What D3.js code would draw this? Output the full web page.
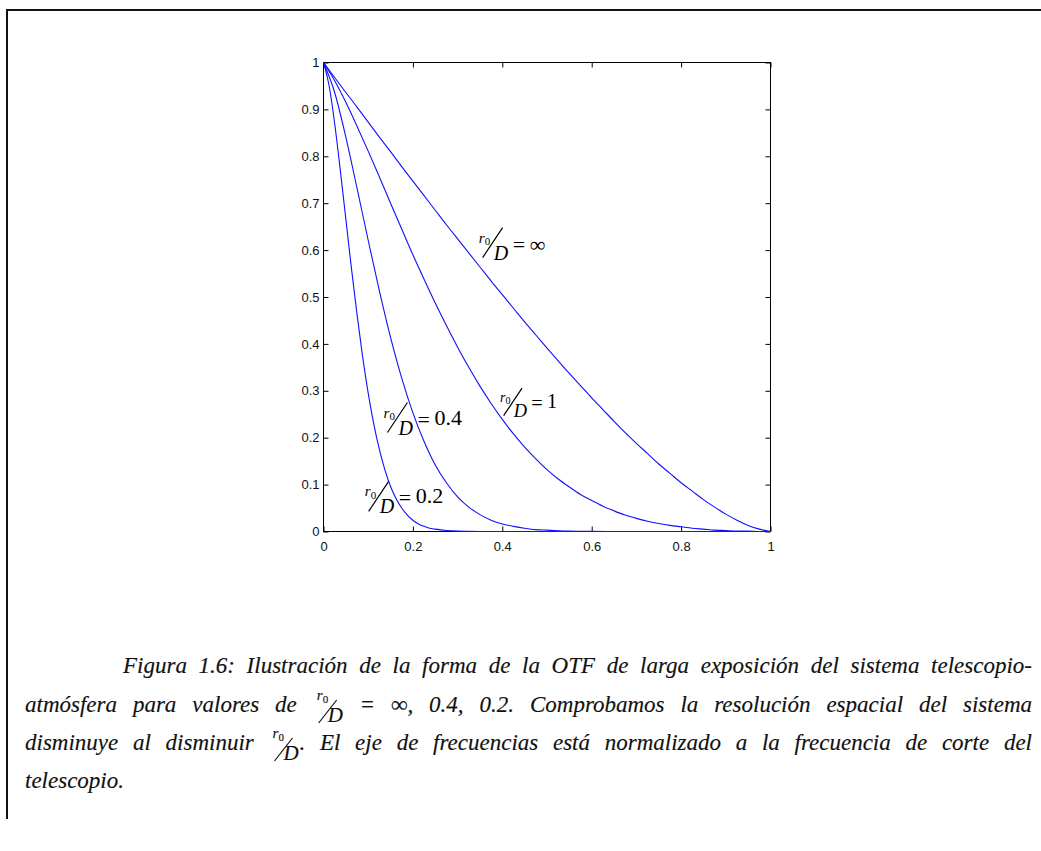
<!DOCTYPE html>
<html>
<head>
<meta charset="utf-8">
<script src="https://cdn.jsdelivr.net/npm/d3@7"></script>
<style>
  body { margin: 0; background: #fff; }
  svg { display: block; }
</style>
</head>
<body>
<svg id="fig" width="1041" height="851"></svg>
<script>
// Normalized spatial frequency samples (fraction of the telescope cut-off)
const freqCoarse = [0, 0.025, 0.05, 0.075, 0.1, 0.125, 0.15, 0.175, 0.2, 0.225, 0.25, 0.275, 0.3, 0.325, 0.35,
  0.375, 0.4, 0.425, 0.45, 0.475, 0.5, 0.525, 0.55, 0.575, 0.6, 0.625, 0.65, 0.675, 0.7, 0.725, 0.75, 0.775,
  0.8, 0.825, 0.85, 0.875, 0.9, 0.925, 0.95, 0.975, 1];
const freqMid = [0, 0.025, 0.05, 0.075, 0.1, 0.125, 0.15, 0.175, 0.2, 0.225, 0.25, 0.275, 0.3, 0.325, 0.35,
  0.375, 0.4, 0.425, 0.45, 0.475, 0.5, 0.55, 0.6, 0.65, 0.7, 1];
const freqFine = [0, 0.0125, 0.025, 0.0375, 0.05, 0.0625, 0.075, 0.0875, 0.1, 0.1125, 0.125, 0.1375, 0.15,
  0.1625, 0.175, 0.1875, 0.2, 0.2125, 0.225, 0.2375, 0.25, 0.275, 0.3, 0.325, 0.35, 1];

// Long-exposure OTF of the telescope + atmosphere system
const otfInf = [1, 0.968, 0.936, 0.905, 0.873, 0.841, 0.810, 0.778, 0.747, 0.716, 0.685, 0.654, 0.624, 0.594,
  0.564, 0.534, 0.505, 0.476, 0.447, 0.419, 0.391, 0.364, 0.337, 0.311, 0.285, 0.260, 0.235, 0.211, 0.188,
  0.166, 0.144, 0.124, 0.104, 0.086, 0.068, 0.052, 0.037, 0.024, 0.013, 0.005, 0];
const otfR1 = [1, 0.961, 0.915, 0.864, 0.811, 0.756, 0.700, 0.645, 0.590, 0.538, 0.487, 0.439, 0.393, 0.350,
  0.310, 0.273, 0.239, 0.208, 0.180, 0.155, 0.132, 0.112, 0.095, 0.079, 0.066, 0.054, 0.044, 0.035, 0.028,
  0.022, 0.017, 0.013, 0.010, 0.007, 0.005, 0.003, 0.002, 0.001, 0.001, 0, 0];
const otfR04 = [1, 0.936, 0.841, 0.732, 0.621, 0.513, 0.414, 0.327, 0.253, 0.192, 0.142, 0.104, 0.074, 0.052,
  0.036, 0.024, 0.016, 0.011, 0.007, 0.004, 0.003, 0.001, 0.0003, 0.0001, 0, 0];
const otfR02 = [1, 0.951, 0.870, 0.771, 0.666, 0.561, 0.463, 0.373, 0.295, 0.229, 0.175, 0.131, 0.096, 0.070,
  0.050, 0.035, 0.024, 0.016, 0.011, 0.007, 0.005, 0.002, 0.0007, 0.0003, 0.0001, 0];

// Axis ticks
const xTickValues = [0, 0.2, 0.4, 0.6, 0.8, 1];
const xTickLabels = ["0", "0.2", "0.4", "0.6", "0.8", "1"];
const yTickValues = [0, 0.1, 0.2, 0.3, 0.4, 0.5, 0.6, 0.7, 0.8, 0.9, 1];
const yTickLabels = ["0", "0.1", "0.2", "0.3", "0.4", "0.5", "0.6", "0.7", "0.8", "0.9", "1"];

// r0/D annotations: value text and where the fraction bar starts (data units)
const ratioText = ["∞", "1", "0.4", "0.2"];
const ratioAtFreq = [0.356, 0.403, 0.143, 0.101];
const ratioAtOtf = [0.584, 0.247, 0.211, 0.043];

const series = [
  { f: freqCoarse, v: otfInf },
  { f: freqCoarse, v: otfR1 },
  { f: freqMid, v: otfR04 },
  { f: freqFine, v: otfR02 }
];

const svg = d3.select("#fig");
svg.append("rect").attr("width", 1041).attr("height", 851).attr("fill", "#fff");

// page frame (top and left rules)
svg.append("path")
  .attr("d", "M7,819V10H1041")
  .attr("fill", "none").attr("stroke", "#111").attr("stroke-width", 2);

const x = d3.scaleLinear().domain([0, 1]).range([323.5, 770.5]);
const y = d3.scaleLinear().domain([0, 1]).range([531.5, 62.5]);

const plot = svg.append("g");
const tickFont = "'Liberation Sans', Arial, sans-serif";

function styleAxis(g) {
  g.select(".domain").remove();
  g.selectAll(".tick line").attr("stroke", "#000");
  g.selectAll(".tick text").attr("fill", "#111").style("font-family", tickFont).style("font-size", "13px");
}

plot.append("g").attr("transform", `translate(0,${y(0)})`)
  .call(d3.axisBottom(x).tickValues(xTickValues).tickSizeInner(-5).tickSizeOuter(0).tickPadding(10)
    .tickFormat((d, i) => xTickLabels[i]))
  .call(styleAxis);
plot.append("g").attr("transform", `translate(0,${y(1)})`)
  .call(d3.axisTop(x).tickValues(xTickValues).tickSizeInner(-5).tickSizeOuter(0).tickFormat(""))
  .call(styleAxis);
plot.append("g").attr("transform", `translate(${x(0)},0)`)
  .call(d3.axisLeft(y).tickValues(yTickValues).tickSizeInner(-5).tickSizeOuter(0).tickPadding(4)
    .tickFormat((d, i) => yTickLabels[i]))
  .call(styleAxis);
plot.append("g").attr("transform", `translate(${x(1)},0)`)
  .call(d3.axisRight(y).tickValues(yTickValues).tickSizeInner(-5).tickSizeOuter(0).tickFormat(""))
  .call(styleAxis);

plot.append("rect")
  .attr("x", x(0)).attr("y", y(1))
  .attr("width", x(1) - x(0)).attr("height", y(0) - y(1))
  .attr("fill", "none").attr("stroke", "#000").attr("stroke-width", 1);

const line = d3.line()
  .x(d => x(d[0]))
  .y(d => y(d[1]))
  .curve(d3.curveMonotoneX);

plot.selectAll("path.otf")
  .data(series)
  .join("path")
  .attr("class", "otf")
  .attr("d", s => line(d3.zip(s.f, s.v)))
  .attr("fill", "none")
  .attr("stroke", "#1010ff")
  .attr("stroke-width", 1.1);

const serif = "'Liberation Serif', 'Times New Roman', serif";

// "r0 / D = value" built from pieces, anchored at the lower end of the bar
function drawRatio(g, sx, sy, value, k) {
  const isInf = value === "∞";
  g.append("text").attr("x", sx - 4 * k).attr("y", sy - 15 * k)
    .style("font-family", serif).style("font-style", "italic").style("font-size", (15 * k) + "px").text("r");
  g.append("text").attr("x", sx + 2 * k).attr("y", sy - 12.5 * k)
    .style("font-family", serif).style("font-size", (11 * k) + "px").text("0");
  g.append("line").attr("x1", sx).attr("y1", sy).attr("x2", sx + 20 * k).attr("y2", sy - 30 * k)
    .attr("stroke", "#000").attr("stroke-width", 1.2);
  g.append("text").attr("x", sx + 11 * k).attr("y", sy + 2 * k)
    .style("font-family", serif).style("font-style", "italic").style("font-size", (20 * k) + "px").text("D");
  g.append("text").attr("x", sx + 30 * k).attr("y", sy - 6 * k)
    .style("font-family", serif).style("font-size", (22 * k) + "px").text("=");
  g.append("text").attr("x", sx + 47 * k).attr("y", sy - (isInf ? 6 : 8) * k)
    .style("font-family", serif).style("font-size", (22 * k) + "px").text(value);
}

const labelLayer = svg.append("g").attr("fill", "#000");
ratioText.forEach((t, i) => {
  drawRatio(labelLayer, x(ratioAtFreq[i]), y(ratioAtOtf[i]), t, t === "1" ? 0.92 : 1);
});

// ---- caption (justified, italic serif) ----
const FRAC = { frac: true, suffix: "" };
const FRAC_DOT = { frac: true, suffix: "." };
const captionLines = [
  { x0: 123, base: 673, justify: true,
    words: ["Figura", "1.6:", "Ilustración", "de", "la", "forma", "de", "la", "OTF", "de", "larga", "exposición",
      "del", "sistema", "telescopio-"] },
  { x0: 25, base: 712, justify: true,
    words: ["atmósfera", "para", "valores", "de", FRAC, "=", "∞,", "0.4,", "0.2.", "Comprobamos", "la",
      "resolución", "espacial", "del", "sistema"] },
  { x0: 25, base: 750, justify: true,
    words: ["disminuye", "al", "disminuir", FRAC_DOT, "El", "eje", "de", "frecuencias", "está", "normalizado",
      "a", "la", "frecuencia", "de", "corte", "del"] },
  { x0: 25, base: 788, justify: false, words: ["telescopio."] }
];
const captionRight = 1032;
const capSize = 23;
const cap = svg.append("g").attr("fill", "#111").attr("stroke", "#111").attr("stroke-width", 0.15);

function capText(g, str, size, italic) {
  return g.append("text")
    .style("font-family", serif)
    .style("font-style", italic ? "italic" : "normal")
    .style("font-size", size + "px")
    .text(str);
}

captionLines.forEach(L => {
  const items = L.words.map(w => {
    const g = cap.append("g");
    let width;
    if (typeof w === "string") {
      const t = capText(g, w, capSize, true);
      width = t.node().getComputedTextLength();
    } else {
      // inline r0/D
      capText(g, "r", 15, true).attr("x", 4).attr("y", -12);
      capText(g, "0", 11, false).attr("x", 10).attr("y", -9.5);
      g.append("line").attr("x1", 6).attr("y1", 11).attr("x2", 24).attr("y2", -12)
        .attr("stroke", "#111").attr("stroke-width", 1.2);
      capText(g, "D", 21, true).attr("x", 15).attr("y", 10);
      width = 31;
      if (w.suffix) {
        const s = capText(g, w.suffix, capSize, true).attr("x", width);
        width += s.node().getComputedTextLength();
      }
    }
    return { g, width };
  });
  const total = d3.sum(items, d => d.width);
  const gap = L.justify && items.length > 1
    ? (captionRight - L.x0 - total) / (items.length - 1)
    : 6;
  let cx = L.x0;
  items.forEach(it => {
    it.g.attr("transform", `translate(${cx},${L.base})`);
    cx += it.width + gap;
  });
});
</script>
</body>
</html>
